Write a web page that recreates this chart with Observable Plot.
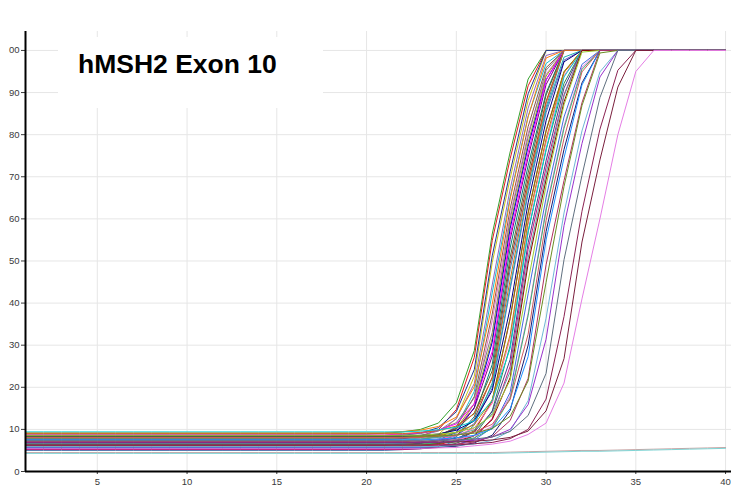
<!DOCTYPE html>
<html>
<head>
<meta charset="utf-8">
<script src="https://cdn.jsdelivr.net/npm/d3@7"></script>
<script src="https://cdn.jsdelivr.net/npm/@observablehq/plot@0.6"></script>
<style>
  html, body { margin: 0; padding: 0; background: #fff; }
  #wrap { position: relative; width: 731px; height: 495px; overflow: hidden; }
  #titlebox { position: absolute; left: 58px; top: 37px; width: 265px; height: 71px; background: #fff; }
  #title { position: absolute; left: 78px; top: 49px; font-family: "Liberation Sans", Arial, sans-serif; font-weight: bold; font-size: 26.5px; line-height: normal; color: #000; white-space: nowrap; }
</style>
</head>
<body>
<div id="wrap">
  <div id="chart"></div>
  <div id="titlebox"></div>
  <div id="title">hMSH2 Exon 10</div>
</div>
<script>
// ---- data ----
const cycles = [1,2,3,4,5,6,7,8,9,10,11,12,13,14,15,16,17,18,19,20,21,22,23,24,25,26,27,28,29,30,31,32,33,34,35,36,37,38,39,40];
const xTicks = [5,10,15,20,25,30,35,40];
const yTicks = [0,10,20,30,40,50,60,70,80,90,100];

const colors = ["#33a02c","#e31a1c","#c9c41a","#1f3a93","#9467bd","#17becf","#ff7f0e","#8c564b","#e377c2","#7f7f7f",
  "#9aa51f","#0000cd","#800080","#008080","#ff00ff","#a52a2a","#556b2f","#4682b4","#d2691e","#6a5acd",
  "#20b2aa","#dc143c","#000080","#808000","#ff69b4","#2e8b57","#b8860b","#483d8b","#00ced1","#c71585",
  "#5f9ea0","#8b0000","#9acd32","#4169e1","#da70d6","#3cb371","#cd5c5c","#191970","#1e90ff","#b03060",
  "#6b8e23","#6fb7d6","#9932cc","#5f6f7f","#8b2252","#7a1f3d","#e57ee5","#c8a4a4","#7fd4d4"];

const fluorescence = [
  // reach 100 at cycle 30
  [8.9,8.9,8.9,8.9,8.9, 8.9,8.9,8.9,8.9,8.9, 8.9,8.9,8.9,8.9,8.9, 8.9,8.9,8.9,8.9,8.9,
   9.1,9.4,10.0,11.5,16.3,28.7,56.4,75.9,93.2,
   100,100,100,100,100, 100,100,100,100,100, 100],
  [7.3,7.3,7.3,7.3,7.3, 7.3,7.3,7.3,7.3,7.3, 7.3,7.3,7.3,7.3,7.3, 7.3,7.3,7.3,7.3,7.3,
   7.5,7.8,8.4,9.9,14.7,27.1,54.8,74.3,91.6,
   100,100,100,100,100, 100,100,100,100,100, 100],
  [6.6,6.6,6.6,6.6,6.6, 6.6,6.6,6.6,6.6,6.6, 6.6,6.6,6.6,6.6,6.6, 6.6,6.6,6.6,6.6,6.6,
   6.8,7.0,7.5,8.8,12.6,22.6,49.6,69.6,88.1,
   100,100,100,100,100, 100,100,100,100,100, 100],
  [8.2,8.2,8.2,8.2,8.2, 8.2,8.2,8.2,8.2,8.2, 8.2,8.2,8.2,8.2,8.2, 8.2,8.2,8.2,8.2,8.2,
   8.4,8.6,9.1,10.4,14.2,24.2,51.2,71.2,89.7,
   100,100,100,100,100, 100,100,100,100,100, 100],
  // reach 100 at cycle 31
  [7.8,7.8,7.8,7.8,7.8, 7.8,7.8,7.8,7.8,7.8, 7.8,7.8,7.8,7.8,7.8, 7.8,7.8,7.8,7.8,7.8, 7.8,
   8.1,8.5,9.6,12.5,20.9,44.3,67.1,86.3,98.8,
   100,100,100,100,100, 100,100,100,100,100],
  [5.9,5.9,5.9,5.9,5.9, 5.9,5.9,5.9,5.9,5.9, 5.9,5.9,5.9,5.9,5.9, 5.9,5.9,5.9,5.9,5.9, 5.9,
   6.2,6.6,7.7,10.6,19.0,42.4,65.2,84.4,96.9,
   100,100,100,100,100, 100,100,100,100,100],
  [9.2,9.2,9.2,9.2,9.2, 9.2,9.2,9.2,9.2,9.2, 9.2,9.2,9.2,9.2,9.2, 9.2,9.2,9.2,9.2,9.2, 9.2,
   9.5,9.8,10.7,12.9,20.1,39.7,64.7,84.2,98.2,
   100,100,100,100,100, 100,100,100,100,100],
  [6.9,6.9,6.9,6.9,6.9, 6.9,6.9,6.9,6.9,6.9, 6.9,6.9,6.9,6.9,6.9, 6.9,6.9,6.9,6.9,6.9, 6.9,
   7.2,7.5,8.4,10.6,17.8,37.4,62.4,81.9,95.9,
   100,100,100,100,100, 100,100,100,100,100],
  [5.3,5.3,5.3,5.3,5.3, 5.3,5.3,5.3,5.3,5.3, 5.3,5.3,5.3,5.3,5.3, 5.3,5.3,5.3,5.3,5.3, 5.3,
   5.6,5.9,6.8,9.0,16.2,35.8,60.8,80.3,94.3,
   100,100,100,100,100, 100,100,100,100,100],
  [8.5,8.5,8.5,8.5,8.5, 8.5,8.5,8.5,8.5,8.5, 8.5,8.5,8.5,8.5,8.5, 8.5,8.5,8.5,8.5,8.5, 8.5,
   8.8,9.0,9.8,11.6,17.5,33.0,60.0,79.5,95.3,
   100,100,100,100,100, 100,100,100,100,100],
  [7.1,7.1,7.1,7.1,7.1, 7.1,7.1,7.1,7.1,7.1, 7.1,7.1,7.1,7.1,7.1, 7.1,7.1,7.1,7.1,7.1, 7.1,
   7.4,7.6,8.4,10.2,16.1,31.6,58.6,78.1,93.9,
   100,100,100,100,100, 100,100,100,100,100],
  [6.2,6.2,6.2,6.2,6.2, 6.2,6.2,6.2,6.2,6.2, 6.2,6.2,6.2,6.2,6.2, 6.2,6.2,6.2,6.2,6.2, 6.2,
   6.5,6.7,7.5,9.3,15.2,30.7,57.7,77.2,93.0,
   100,100,100,100,100, 100,100,100,100,100],
  [7.6,7.6,7.6,7.6,7.6, 7.6,7.6,7.6,7.6,7.6, 7.6,7.6,7.6,7.6,7.6, 7.6,7.6,7.6,7.6,7.6, 7.6,
   7.8,8.1,8.7,10.2,15.0,27.4,55.1,74.6,91.9,
   100,100,100,100,100, 100,100,100,100,100],
  [5.6,5.6,5.6,5.6,5.6, 5.6,5.6,5.6,5.6,5.6, 5.6,5.6,5.6,5.6,5.6, 5.6,5.6,5.6,5.6,5.6, 5.6,
   5.8,6.1,6.7,8.2,13.0,25.4,53.1,72.6,89.9,
   100,100,100,100,100, 100,100,100,100,100],
  [8.7,8.7,8.7,8.7,8.7, 8.7,8.7,8.7,8.7,8.7, 8.7,8.7,8.7,8.7,8.7, 8.7,8.7,8.7,8.7,8.7, 8.7,
   8.9,9.2,9.8,11.3,16.1,28.5,56.2,75.7,93.0,
   100,100,100,100,100, 100,100,100,100,100],
  [6.4,6.4,6.4,6.4,6.4, 6.4,6.4,6.4,6.4,6.4, 6.4,6.4,6.4,6.4,6.4, 6.4,6.4,6.4,6.4,6.4, 6.4,
   6.6,6.8,7.3,8.6,12.4,22.4,49.4,69.4,87.9,
   100,100,100,100,100, 100,100,100,100,100],
  [7.9,7.9,7.9,7.9,7.9, 7.9,7.9,7.9,7.9,7.9, 7.9,7.9,7.9,7.9,7.9, 7.9,7.9,7.9,7.9,7.9, 7.9,
   8.1,8.3,8.8,10.1,13.9,23.9,50.9,70.9,89.4,
   100,100,100,100,100, 100,100,100,100,100],
  [5.0,5.0,5.0,5.0,5.0, 5.0,5.0,5.0,5.0,5.0, 5.0,5.0,5.0,5.0,5.0, 5.0,5.0,5.0,5.0,5.0, 5.0,
   5.2,5.4,5.9,7.2,11.0,21.0,48.0,68.0,86.5,
   100,100,100,100,100, 100,100,100,100,100],
  // reach 100 at cycle 32
  [9.0,9.0,9.0,9.0,9.0, 9.0,9.0,9.0,9.0,9.0, 9.0,9.0,9.0,9.0,9.0, 9.0,9.0,9.0,9.0,9.0, 9.0,9.0,
   9.3,9.7,10.8,13.7,22.1,45.5,68.3,87.5,100,
   100,100,100,100,100, 100,100,100,100],
  [6.7,6.7,6.7,6.7,6.7, 6.7,6.7,6.7,6.7,6.7, 6.7,6.7,6.7,6.7,6.7, 6.7,6.7,6.7,6.7,6.7, 6.7,6.7,
   7.0,7.4,8.5,11.4,19.8,43.2,66.0,85.2,97.7,
   100,100,100,100,100, 100,100,100,100],
  [7.4,7.4,7.4,7.4,7.4, 7.4,7.4,7.4,7.4,7.4, 7.4,7.4,7.4,7.4,7.4, 7.4,7.4,7.4,7.4,7.4, 7.4,7.4,
   7.7,8.1,9.2,12.1,20.5,43.9,66.7,85.9,98.4,
   100,100,100,100,100, 100,100,100,100],
  [5.8,5.8,5.8,5.8,5.8, 5.8,5.8,5.8,5.8,5.8, 5.8,5.8,5.8,5.8,5.8, 5.8,5.8,5.8,5.8,5.8, 5.8,5.8,
   6.1,6.4,7.3,9.5,16.7,36.3,61.3,80.8,94.8,
   100,100,100,100,100, 100,100,100,100],
  [8.3,8.3,8.3,8.3,8.3, 8.3,8.3,8.3,8.3,8.3, 8.3,8.3,8.3,8.3,8.3, 8.3,8.3,8.3,8.3,8.3, 8.3,8.3,
   8.6,8.9,9.8,12.0,19.2,38.8,63.8,83.3,97.3,
   100,100,100,100,100, 100,100,100,100],
  [6.0,6.0,6.0,6.0,6.0, 6.0,6.0,6.0,6.0,6.0, 6.0,6.0,6.0,6.0,6.0, 6.0,6.0,6.0,6.0,6.0, 6.0,6.0,
   6.3,6.6,7.5,9.7,16.9,36.5,61.5,81.0,95.0,
   100,100,100,100,100, 100,100,100,100],
  [7.2,7.2,7.2,7.2,7.2, 7.2,7.2,7.2,7.2,7.2, 7.2,7.2,7.2,7.2,7.2, 7.2,7.2,7.2,7.2,7.2, 7.2,7.2,
   7.5,7.7,8.5,10.3,16.2,31.7,58.7,78.2,94.0,
   100,100,100,100,100, 100,100,100,100],
  [5.4,5.4,5.4,5.4,5.4, 5.4,5.4,5.4,5.4,5.4, 5.4,5.4,5.4,5.4,5.4, 5.4,5.4,5.4,5.4,5.4, 5.4,5.4,
   5.7,5.9,6.7,8.5,14.4,29.9,56.9,76.4,92.2,
   100,100,100,100,100, 100,100,100,100],
  [8.0,8.0,8.0,8.0,8.0, 8.0,8.0,8.0,8.0,8.0, 8.0,8.0,8.0,8.0,8.0, 8.0,8.0,8.0,8.0,8.0, 8.0,8.0,
   8.3,8.5,9.3,11.1,17.0,32.5,59.5,79.0,94.8,
   100,100,100,100,100, 100,100,100,100],
  [6.8,6.8,6.8,6.8,6.8, 6.8,6.8,6.8,6.8,6.8, 6.8,6.8,6.8,6.8,6.8, 6.8,6.8,6.8,6.8,6.8, 6.8,6.8,
   7.0,7.3,7.9,9.4,14.2,26.6,54.3,73.8,91.1,
   100,100,100,100,100, 100,100,100,100],
  [9.4,9.4,9.4,9.4,9.4, 9.4,9.4,9.4,9.4,9.4, 9.4,9.4,9.4,9.4,9.4, 9.4,9.4,9.4,9.4,9.4, 9.4,9.4,
   9.6,9.9,10.5,12.0,16.8,29.2,56.9,76.4,93.7,
   100,100,100,100,100, 100,100,100,100],
  [5.2,5.2,5.2,5.2,5.2, 5.2,5.2,5.2,5.2,5.2, 5.2,5.2,5.2,5.2,5.2, 5.2,5.2,5.2,5.2,5.2, 5.2,5.2,
   5.4,5.7,6.3,7.8,12.6,25.0,52.7,72.2,89.5,
   100,100,100,100,100, 100,100,100,100],
  [7.7,7.7,7.7,7.7,7.7, 7.7,7.7,7.7,7.7,7.7, 7.7,7.7,7.7,7.7,7.7, 7.7,7.7,7.7,7.7,7.7, 7.7,7.7,
   7.9,8.1,8.6,9.9,13.7,23.7,50.7,70.7,89.2,
   100,100,100,100,100, 100,100,100,100],
  [6.3,6.3,6.3,6.3,6.3, 6.3,6.3,6.3,6.3,6.3, 6.3,6.3,6.3,6.3,6.3, 6.3,6.3,6.3,6.3,6.3, 6.3,6.3,
   6.5,6.7,7.2,8.5,12.3,22.3,49.3,69.3,87.8,
   100,100,100,100,100, 100,100,100,100],
  // reach 100 at cycle 33
  [8.6,8.6,8.6,8.6,8.6, 8.6,8.6,8.6,8.6,8.6, 8.6,8.6,8.6,8.6,8.6, 8.6,8.6,8.6,8.6,8.6, 8.6,8.6,8.6,
   8.9,9.3,10.4,13.3,21.7,45.1,67.9,87.1,99.6,
   100,100,100,100,100, 100,100,100],
  [5.7,5.7,5.7,5.7,5.7, 5.7,5.7,5.7,5.7,5.7, 5.7,5.7,5.7,5.7,5.7, 5.7,5.7,5.7,5.7,5.7, 5.7,5.7,5.7,
   6.0,6.4,7.5,10.4,18.8,42.2,65.0,84.2,96.7,
   100,100,100,100,100, 100,100,100],
  [7.0,7.0,7.0,7.0,7.0, 7.0,7.0,7.0,7.0,7.0, 7.0,7.0,7.0,7.0,7.0, 7.0,7.0,7.0,7.0,7.0, 7.0,7.0,7.0,
   7.3,7.6,8.5,10.7,17.9,37.5,62.5,82.0,96.0,
   100,100,100,100,100, 100,100,100],
  [6.5,6.5,6.5,6.5,6.5, 6.5,6.5,6.5,6.5,6.5, 6.5,6.5,6.5,6.5,6.5, 6.5,6.5,6.5,6.5,6.5, 6.5,6.5,6.5,
   6.8,7.1,8.0,10.2,17.4,37.0,62.0,81.5,95.5,
   100,100,100,100,100, 100,100,100],
  [8.1,8.1,8.1,8.1,8.1, 8.1,8.1,8.1,8.1,8.1, 8.1,8.1,8.1,8.1,8.1, 8.1,8.1,8.1,8.1,8.1, 8.1,8.1,8.1,
   8.4,8.6,9.4,11.2,17.1,32.6,59.6,79.1,94.9,
   100,100,100,100,100, 100,100,100],
  [5.5,5.5,5.5,5.5,5.5, 5.5,5.5,5.5,5.5,5.5, 5.5,5.5,5.5,5.5,5.5, 5.5,5.5,5.5,5.5,5.5, 5.5,5.5,5.5,
   5.8,6.0,6.8,8.6,14.5,30.0,57.0,76.5,92.3,
   100,100,100,100,100, 100,100,100],
  [7.5,7.5,7.5,7.5,7.5, 7.5,7.5,7.5,7.5,7.5, 7.5,7.5,7.5,7.5,7.5, 7.5,7.5,7.5,7.5,7.5, 7.5,7.5,7.5,
   7.7,8.0,8.6,10.1,14.9,27.3,55.0,74.5,91.8,
   100,100,100,100,100, 100,100,100],
  [6.1,6.1,6.1,6.1,6.1, 6.1,6.1,6.1,6.1,6.1, 6.1,6.1,6.1,6.1,6.1, 6.1,6.1,6.1,6.1,6.1, 6.1,6.1,6.1,
   6.3,6.5,7.0,8.3,12.1,22.1,49.1,69.1,87.6,
   100,100,100,100,100, 100,100,100],
  // reach 100 at cycle 34
  [8.4,8.4,8.4,8.4,8.4, 8.4,8.4,8.4,8.4,8.4, 8.4,8.4,8.4,8.4,8.4, 8.4,8.4,8.4,8.4,8.4, 8.4,8.4,8.4,8.4,
   8.7,9.1,10.2,13.1,21.5,44.9,67.7,86.9,99.4,
   100,100,100,100,100, 100,100],
  [5.9,5.9,5.9,5.9,5.9, 5.9,5.9,5.9,5.9,5.9, 5.9,5.9,5.9,5.9,5.9, 5.9,5.9,5.9,5.9,5.9, 5.9,5.9,5.9,5.9,
   6.2,6.5,7.4,9.6,16.8,36.4,61.4,80.9,94.9,
   100,100,100,100,100, 100,100],
  [6.9,6.9,6.9,6.9,6.9, 6.9,6.9,6.9,6.9,6.9, 6.9,6.9,6.9,6.9,6.9, 6.9,6.9,6.9,6.9,6.9, 6.9,6.9,6.9,6.9,
   7.2,7.4,8.2,10.0,15.9,31.4,58.4,77.9,93.7,
   100,100,100,100,100, 100,100],
  [7.3,7.3,7.3,7.3,7.3, 7.3,7.3,7.3,7.3,7.3, 7.3,7.3,7.3,7.3,7.3, 7.3,7.3,7.3,7.3,7.3, 7.3,7.3,7.3,7.3,
   7.5,7.7,8.2,9.5,13.3,23.3,50.3,70.3,88.8,
   100,100,100,100,100, 100,100],
  // reach 100 at cycle 35 (dark maroon)
  [6.3,6.3,6.3,6.3,6.3, 6.3,6.3,6.3,6.3,6.3, 6.3,6.3,6.3,6.3,6.3, 6.3,6.3,6.3,6.3,6.3, 6.3,6.3,6.3,6.3,6.3,
   6.6,6.9,7.8,10.0,17.2,36.8,61.8,81.3,95.3,
   100,100,100,100,100, 100],
  [7.0,7.0,7.0,7.0,7.0, 7.0,7.0,7.0,7.0,7.0, 7.0,7.0,7.0,7.0,7.0, 7.0,7.0,7.0,7.0,7.0, 7.0,7.0,7.0,7.0,7.0,
   7.2,7.5,8.1,9.6,14.4,26.8,54.5,74.0,91.3,
   100,100,100,100,100, 100],
  // reach 100 at cycle 36 (pink outlier)
  [5.5,5.5,5.5,5.5,5.5, 5.5,5.5,5.5,5.5,5.5, 5.5,5.5,5.5,5.5,5.5, 5.5,5.5,5.5,5.5,5.5, 5.5,5.5,5.5,5.6,5.7,
   6.1,6.5,7.2,8.8,11.5,21,41,60,80,95,
   100,100,100,100,100],
  // negative controls
  [4.5,4.5,4.5,4.5,4.5, 4.5,4.5,4.5,4.5,4.5, 4.5,4.5,4.5,4.5,4.5, 4.5,4.5,4.5,4.5,4.5, 4.5,4.5,4.5,4.5,4.5,
   4.5,4.5,4.6,4.7,4.8,4.9,5.0,5.0,5.1,5.2,5.3,5.4,5.5,5.6,5.7],
  [4.3,4.3,4.3,4.3,4.3, 4.3,4.3,4.3,4.3,4.3, 4.3,4.3,4.3,4.3,4.3, 4.3,4.3,4.3,4.3,4.3, 4.3,4.3,4.3,4.3,4.3,
   4.3,4.3,4.4,4.5,4.6,4.7,4.8,4.8,4.9,5.0,5.1,5.2,5.3,5.4,5.5]
];

const wells = fluorescence.map((_, i) => "w" + (i + 1));

// ---- build table ----
const rows = [];
fluorescence.forEach((vals, i) => {
  vals.forEach((v, j) => {
    if (j < cycles.length) rows.push({well: wells[i], cycle: cycles[j], value: v});
  });
});

const chart = Plot.plot({
  width: 731,
  height: 495,
  marginLeft: 25,
  marginRight: 0,
  marginTop: 31,
  marginBottom: 24,
  style: {fontFamily: "'Liberation Sans', Arial, sans-serif", fontSize: "9.5px", color: "#3a3a3a", background: "#fff"},
  x: {domain: [1, 40.33]},
  y: {domain: [0, 104.5]},
  color: {domain: wells, range: colors},
  marks: [
    Plot.gridX(xTicks, {stroke: "#e6e6e6", strokeOpacity: 1}),
    Plot.gridY(yTicks.filter(d => d > 0), {stroke: "#e6e6e6", strokeOpacity: 1}),
    Plot.line(rows, {x: "cycle", y: "value", z: "well", stroke: "well", strokeWidth: 1}),
    Plot.axisX(xTicks, {tickSize: 3, tickPadding: 4, label: null, tickFormat: d => String(d)}),
    Plot.axisY(yTicks, {tickSize: 4, tickPadding: 2, label: null, tickFormat: d => d === 100 ? "00" : String(d)}),
    Plot.ruleX([1], {stroke: "#000", strokeWidth: 2}),
    Plot.ruleY([0], {stroke: "#000", strokeWidth: 2})
  ]
});
document.getElementById("chart").appendChild(chart);
</script>
</body>
</html>
